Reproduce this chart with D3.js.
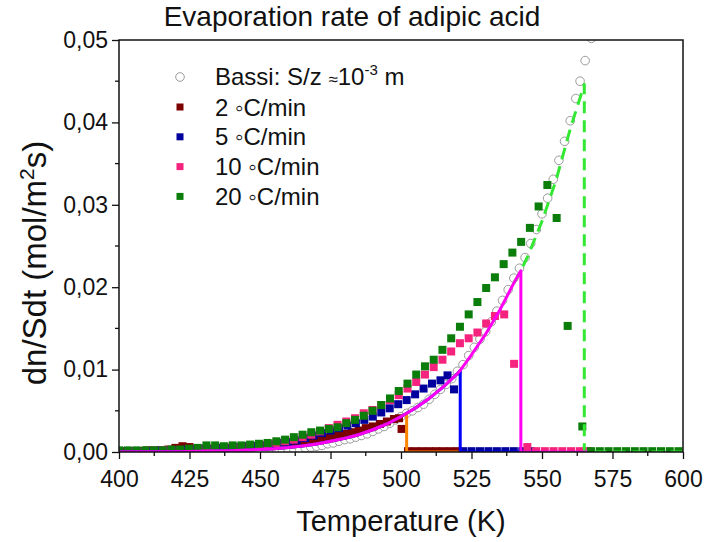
<!DOCTYPE html>
<html>
<head>
<meta charset="utf-8">
<script src="https://cdn.jsdelivr.net/npm/d3@7"></script>
<style>
  body { margin: 0; background: #fff; }
  svg { font-family: "Liberation Sans", Arial, sans-serif; }
</style>
</head>
<body>
<div id="chart"></div>
<script>
// Bassi reference data (open circles)
const bassi = [
  [452, 0.0001], [454, 0.0001], [456, 0.0002], [458, 0.0002], [460, 0.0003], [462, 0.0003],
  [464, 0.0004], [466, 0.0005], [468, 0.0006], [470, 0.0007], [472, 0.0008], [474, 0.0010],
  [476, 0.0011], [478, 0.0013], [480, 0.0015], [482, 0.0016], [484, 0.0018], [486, 0.0020],
  [488, 0.0022], [490, 0.0025], [492, 0.0028], [494, 0.0031], [496, 0.0035], [498, 0.0039],
  [500, 0.0043], [502, 0.0047], [504, 0.0050], [506, 0.0054], [508, 0.0058], [510, 0.0064],
  [512, 0.0070], [514, 0.0076], [516, 0.0082], [518, 0.0089], [520, 0.0098], [522, 0.0106],
  [524, 0.0117], [526, 0.0127], [528, 0.0137], [530, 0.0146], [532, 0.0158], [534, 0.0171],
  [536, 0.0184], [538, 0.0197], [540, 0.0211], [542, 0.0223], [544, 0.0236], [546, 0.0253],
  [548, 0.0270], [550, 0.0289], [552, 0.0308], [554, 0.0331], [556, 0.0354], [558, 0.0377],
  [560, 0.0402], [562, 0.0429], [563.5, 0.0450], [565.3, 0.0475], [567.5, 0.0502]
];

// measured rates, squares
const rate2 = [
  [400, 0.0001], [402.5, 0.0001], [405, 0.0001], [407.5, 0.0001], [410, 0.0002], [412.5, 0.0002],
  [415, 0.0002], [417.5, 0.0003], [420, 0.0005], [422.5, 0.0007], [425, 0.0006], [427.5, 0.0004],
  [430, 0.0004], [432.5, 0.0004], [435, 0.0005], [437.5, 0.0005], [440, 0.0005], [442.5, 0.0006],
  [445, 0.0006], [447.5, 0.0007], [450, 0.0007], [452.5, 0.0008], [455, 0.0009], [457.5, 0.0010],
  [460, 0.0011], [462.5, 0.0012], [465, 0.0013], [467.5, 0.0014], [470, 0.0015], [472.5, 0.0017],
  [475, 0.0018], [477.5, 0.0020], [480, 0.0022], [482.5, 0.0024], [485, 0.0026], [487.5, 0.0029],
  [490, 0.0031], [492.5, 0.0034], [495, 0.0037], [497.5, 0.0040], [499.3, 0.0041], [500.2, 0.0028],
  [502.5, 0.0001], [505, 0.0001], [507.5, 0.0001], [510, 0.0001], [512.5, 0.0001], [515, 0.0001],
  [517.5, 0.0001], [520, 0.0001]
];
const rate5 = [
  [400, 0.0001], [403, 0.0001], [406, 0.0001], [409, 0.0001], [412, 0.0001], [415, 0.0002],
  [418, 0.0002], [421, 0.0002], [424, 0.0003], [427, 0.0003], [430, 0.0004], [433, 0.0004],
  [436, 0.0005], [439, 0.0005], [442, 0.0006], [445, 0.0007], [448, 0.0007], [451, 0.0008],
  [454, 0.0009], [457, 0.0011], [460, 0.0012], [463, 0.0014], [466, 0.0017], [469, 0.0020],
  [472, 0.0023], [475, 0.0026], [478, 0.0029], [481, 0.0032], [484, 0.0035], [487, 0.0039],
  [490, 0.0043], [493, 0.0048], [496, 0.0053], [499, 0.0058], [502, 0.0063], [505, 0.0070],
  [508, 0.0077], [511, 0.0083], [514, 0.0087], [516.5, 0.0093], [518.8, 0.0076],
  [522, 0.0001], [525, 0.0001], [528, 0.0001], [531, 0.0001], [534, 0.0001], [537, 0.0001],
  [540, 0.0001], [543, 0.0001], [546, 0.0001]
];
const rate10 = [
  [400, 0.0001], [403.1, 0.0001], [406.2, 0.0001], [409.3, 0.0001], [412.4, 0.0001], [415.5, 0.0002],
  [418.6, 0.0002], [421.7, 0.0002], [424.8, 0.0003], [427.9, 0.0003], [431, 0.0004], [434.1, 0.0004],
  [437.2, 0.0005], [440.3, 0.0005], [443.4, 0.0006], [446.5, 0.0007], [449.6, 0.0008], [452.7, 0.0009],
  [455.8, 0.0011], [458.9, 0.0013], [462, 0.0015], [465.1, 0.0018], [468.2, 0.0021], [471.3, 0.0025],
  [474.4, 0.0029], [477.5, 0.0033], [480.6, 0.0037], [483.7, 0.0041], [486.8, 0.0047], [489.9, 0.0051],
  [493, 0.0057], [496.1, 0.0063], [499.2, 0.0069], [502.3, 0.0077], [505.4, 0.0085], [508.5, 0.0094],
  [511.6, 0.0103], [514.7, 0.0112], [517.8, 0.0122], [520.9, 0.0132], [524, 0.0138], [527.1, 0.0145],
  [530.2, 0.0156], [533.3, 0.0165], [536.6, 0.0167], [540.1, 0.0107], [544.8, 0.0006],
  [547.9, 0.0001], [551, 0.0001], [554.1, 0.0001], [557.2, 0.0001], [560.3, 0.0001], [563.4, 0.0001],
  [566.5, 0.0001]
];
const rate20 = [
  [400, 0.0002], [403.1, 0.0002], [406.2, 0.0002], [409.3, 0.0002], [412.4, 0.0002], [415.5, 0.0002],
  [418.6, 0.0003], [421.7, 0.0003], [424.8, 0.0004], [427.9, 0.0005], [431, 0.0008], [434.1, 0.0008],
  [437.2, 0.0007], [440.3, 0.0008], [443.4, 0.0008], [446.5, 0.0009], [449.6, 0.0010], [452.7, 0.0011],
  [455.8, 0.0013], [458.9, 0.0015], [462, 0.0018], [465.1, 0.0021], [468.2, 0.0024], [471.3, 0.0026],
  [474.4, 0.0028], [477.5, 0.0030], [480.6, 0.0035], [483.7, 0.0039], [486.8, 0.0044], [489.9, 0.0050],
  [493, 0.0057], [496.1, 0.0065], [499.2, 0.0074], [502.3, 0.0083], [505.4, 0.0094], [508.5, 0.0104],
  [511.6, 0.0112], [514.7, 0.0124], [517.8, 0.0138], [520.9, 0.0152], [524, 0.0167], [527.1, 0.0182],
  [530.2, 0.0199], [533.3, 0.0212], [536.4, 0.0228], [539.5, 0.0242], [542.6, 0.0255], [545.7, 0.0272],
  [548.8, 0.0298], [551.9, 0.0324], [555.2, 0.0284], [559.1, 0.0153], [564.3, 0.0031],
  [567.4, 0.0001], [570.5, 0.0001], [573.6, 0.0001], [576.7, 0.0001], [579.8, 0.0001], [582.9, 0.0001],
  [586, 0.0001], [589.1, 0.0001], [592.2, 0.0001], [595.3, 0.0001], [598.4, 0.0001]
];

// model curve (lines), cut off at each drop temperature
const modelCurve = [
  [400, 0.00001], [410, 0.00002], [420, 0.00004], [430, 0.00008], [440, 0.00016], [450, 0.0003],
  [455, 0.0004], [460, 0.00054], [465, 0.00072], [470, 0.00097], [475, 0.0013], [480, 0.00165],
  [485, 0.0021], [490, 0.0027], [495, 0.0034], [500, 0.0043], [502, 0.0047], [505, 0.0053],
  [510, 0.0065], [515, 0.0079], [520, 0.0095], [521, 0.0099], [525, 0.0118], [530, 0.0143],
  [535, 0.0172], [540, 0.0205], [542.5, 0.0220], [545, 0.0238], [550, 0.0280], [555, 0.0330],
  [560, 0.0392], [565, 0.0446]
];
const modelStart = [400, 400, 400, 540];
const modelDrop = [502, 521, 542.5, 565];
const modelEnd = [521, 543, 566, 600];

const seriesNames = ["2 \u25E6C/min", "5 \u25E6C/min", "10 \u25E6C/min", "20 \u25E6C/min"];
const squareColors = ["#7d0000", "#00009c", "#f5237d", "#0a7d0a"];
const lineColors = ["#ff8400", "#0000ff", "#ff00f0", "#33e833"];
const xTicks = [400, 425, 450, 475, 500, 525, 550, 575, 600];
const yTicks = [0, 0.01, 0.02, 0.03, 0.04, 0.05];

const width = 704, height = 542;
const margin = { left: 119, right: 21, top: 40, bottom: 90 };

const svg = d3.select('#chart').append('svg')
  .attr('width', width)
  .attr('height', height);

const x = d3.scaleLinear().domain([400, 600]).range([margin.left, width - margin.right]);
const y = d3.scaleLinear().domain([0, 0.05]).range([height - margin.bottom, margin.top]);

svg.append('clipPath').attr('id', 'plot-clip')
  .append('rect')
  .attr('x', x(400)).attr('y', y(0.05))
  .attr('width', x(600) - x(400)).attr('height', y(0) - y(0.05));

const plot = svg.append('g').attr('clip-path', 'url(#plot-clip)');

// circles first
plot.selectAll('circle.bassi')
  .data(bassi)
  .enter()
  .append('circle')
  .attr('class', 'bassi')
  .attr('cx', d => x(d[0]))
  .attr('cy', d => y(d[1]))
  .attr('r', 4.3)
  .attr('fill', '#fff')
  .attr('stroke', '#9a9a9a')
  .attr('stroke-width', 1);

const sq = 8;
[rate2, rate5, rate10, rate20].forEach((data, i) => {
  plot.append('g').selectAll('rect')
    .data(data)
    .enter()
    .append('rect')
    .attr('x', d => x(d[0]) - sq / 2)
    .attr('y', d => y(d[1]) - sq / 2)
    .attr('width', sq)
    .attr('height', sq)
    .attr('fill', squareColors[i]);
});

// model lines, green dashed goes underneath
const line = d3.line().x(d => x(d[0])).y(d => y(d[1]));
function modelPath(i) {
  const pts = modelCurve.filter(d => d[0] >= modelStart[i] && d[0] <= modelDrop[i]);
  pts.push([modelDrop[i], 0]);
  pts.push([modelEnd[i], 0]);
  return pts;
}
[3, 0, 1, 2].forEach(i => {
  plot.append('path')
    .attr('d', line(modelPath(i)))
    .attr('fill', 'none')
    .attr('stroke', lineColors[i])
    .attr('stroke-width', 3)
    .attr('stroke-dasharray', i === 3 ? '12,7' : null)
    .attr('stroke-linejoin', 'round');
});

// axes
const xAxis = d3.axisBottom(x).tickValues(xTicks).tickSize(7).tickPadding(12).tickFormat(d3.format('d'));
const gx = svg.append('g')
  .attr('transform', `translate(0, ${y(0)})`)
  .call(xAxis);
gx.selectAll('text').attr('font-size', 23).attr('fill', '#111');

const yAxis = d3.axisLeft(y).tickValues(yTicks).tickSize(7).tickPadding(4)
  .tickFormat(d => d3.format('.2f')(d).replace('.', ','));
const gy = svg.append('g')
  .attr('transform', `translate(${x(400)}, 0)`)
  .call(yAxis);
gy.selectAll('text').attr('font-size', 23).attr('fill', '#111');

[gx, gy].forEach(g => {
  g.select('.domain').remove();
  g.selectAll('line').attr('stroke', '#111').attr('stroke-width', 1.3);
  g.attr('font-family', null);
});

// minor ticks
svg.append('g').selectAll('line')
  .data(d3.range(xTicks.length - 1).map(i => (xTicks[i] + xTicks[i + 1]) / 2))
  .enter().append('line')
  .attr('x1', d => x(d)).attr('x2', d => x(d))
  .attr('y1', y(0)).attr('y2', y(0) + 4)
  .attr('stroke', '#111').attr('stroke-width', 1.3);
svg.append('g').selectAll('line')
  .data(d3.range(yTicks.length - 1).map(i => (yTicks[i] + yTicks[i + 1]) / 2))
  .enter().append('line')
  .attr('x1', x(400)).attr('x2', x(400) - 4)
  .attr('y1', d => y(d)).attr('y2', d => y(d))
  .attr('stroke', '#111').attr('stroke-width', 1.3);

// frame
svg.append('rect')
  .attr('x', x(400)).attr('y', y(0.05))
  .attr('width', x(600) - x(400)).attr('height', y(0) - y(0.05))
  .attr('fill', 'none')
  .attr('stroke', '#111')
  .attr('stroke-width', 1.5);

// titles
svg.append('text')
  .attr('x', 352).attr('y', 26)
  .attr('text-anchor', 'middle')
  .attr('font-size', 28)
  .attr('fill', '#111')
  .text('Evaporation rate of adipic acid');

svg.append('text')
  .attr('x', 401).attr('y', 531)
  .attr('text-anchor', 'middle')
  .attr('font-size', 29)
  .attr('fill', '#111')
  .text('Temperature (K)');

const yLabel = svg.append('text')
  .attr('transform', 'translate(46, 263) rotate(-90)')
  .attr('text-anchor', 'middle')
  .attr('font-size', 33)
  .attr('fill', '#111');
yLabel.append('tspan').text('dn/Sdt (mol/m');
yLabel.append('tspan').attr('dy', -12).attr('font-size', 21).text('2');
yLabel.append('tspan').attr('dy', 12).text('s)');

// legend
const legend = svg.append('g');
legend.append('circle')
  .attr('cx', 180).attr('cy', 77).attr('r', 4.3)
  .attr('fill', '#fff').attr('stroke', '#9a9a9a');
const bassiText = legend.append('text')
  .attr('x', 215).attr('y', 85)
  .attr('font-size', 24)
  .attr('fill', '#111');
bassiText.append('tspan').text('Bassi: S/z ');
bassiText.append('tspan').attr('font-size', 17).text('\u2248');
bassiText.append('tspan').text('10');
bassiText.append('tspan').attr('dy', -10).attr('font-size', 15).text('-3');
bassiText.append('tspan').attr('dy', 10).text(' m');

seriesNames.forEach((name, i) => {
  const ly = 107 + i * 29.8;
  legend.append('rect')
    .attr('x', 176.5).attr('y', ly - 3.5)
    .attr('width', 7).attr('height', 7)
    .attr('fill', squareColors[i]);
  legend.append('text')
    .attr('x', 215).attr('y', ly + 8.5)
    .attr('font-size', 24)
    .attr('fill', '#111')
    .text(name);
});
</script>
</body>
</html>
